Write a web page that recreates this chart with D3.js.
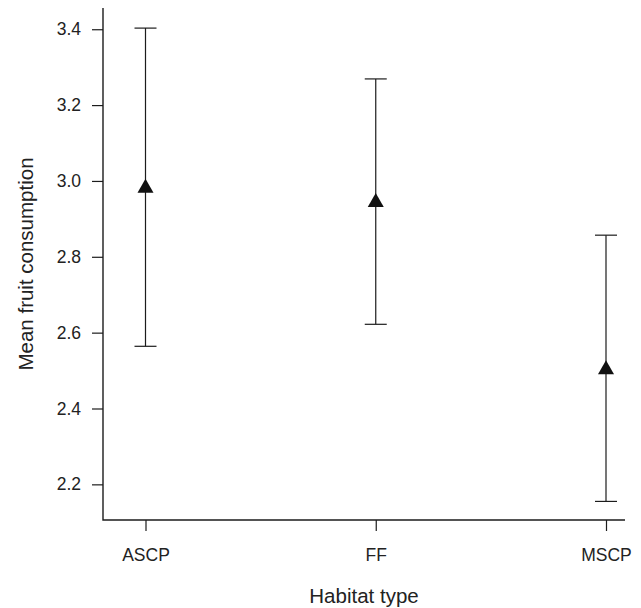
<!DOCTYPE html>
<html>
<head>
<meta charset="utf-8">
<script src="https://cdn.jsdelivr.net/npm/d3@7"></script>
<style>
  html, body { margin: 0; padding: 0; background: #fff; }
  svg { display: block; font-family: "Liberation Sans", Arial, Helvetica, sans-serif; }
</style>
</head>
<body>
<svg id="chart" width="641" height="608"></svg>
<script>
// ---- data ----
const categories = ["ASCP", "FF", "MSCP"];
const means = [2.987, 2.950, 2.509];
const upper = [3.403, 3.269, 2.857];
const lower = [2.564, 2.622, 2.155];
const yTicks = [2.2, 2.4, 2.6, 2.8, 3.0, 3.2, 3.4];
const xTitle = "Habitat type";
const yTitle = "Mean fruit consumption";

// ---- layout ----
const svg = d3.select("#chart");
const axisX0 = 103, axisX1 = 625, axisY0 = 8, axisY1 = 520;
const ink = "#1c1c1c";

const x = d3.scalePoint().domain(categories).range([145.5, 606]);
const y = d3.scaleLinear().domain([2.106, 3.456]).range([axisY1, axisY0]);

// y axis
const gy = svg.append("g").attr("transform", `translate(${axisX0},0)`)
  .call(d3.axisLeft(y).tickValues(yTicks).tickFormat(d3.format(".1f")).tickSize(11).tickPadding(11).tickSizeOuter(0));
gy.select(".domain").remove();
gy.selectAll(".tick line").attr("stroke", ink).attr("stroke-width", 1.2);
gy.selectAll(".tick text").attr("font-size", 17.5).attr("fill", "#222").attr("font-family", null);

// x axis
const gx = svg.append("g").attr("transform", `translate(0,${axisY1})`)
  .call(d3.axisBottom(x).tickSize(11).tickSizeOuter(0));
gx.select(".domain").remove();
gx.selectAll(".tick line").attr("stroke", ink).attr("stroke-width", 1.2);
gx.selectAll(".tick text").attr("font-size", 17.5).attr("fill", "#222").attr("font-family", null)
  .attr("y", 41).attr("dy", 0);

// axis lines (L-shaped box)
svg.append("path")
  .attr("d", `M${axisX0},${axisY0}V${axisY1}H${axisX1}`)
  .attr("fill", "none").attr("stroke", ink).attr("stroke-width", 1.4);

// error bars
const capW = 22;
const g = svg.append("g");
categories.forEach((c, i) => {
  const cx = x(c);
  g.append("line").attr("x1", cx).attr("x2", cx).attr("y1", y(upper[i])).attr("y2", y(lower[i]))
    .attr("stroke", ink).attr("stroke-width", 1.2);
  [upper[i], lower[i]].forEach(v => {
    g.append("line").attr("x1", cx - capW / 2).attr("x2", cx + capW / 2).attr("y1", y(v)).attr("y2", y(v))
      .attr("stroke", ink).attr("stroke-width", 1.2);
  });
  const cy = y(means[i]);
  const tw = 16, th = 14;
  g.append("path")
    .attr("d", `M${cx},${cy - th / 2}L${cx + tw / 2},${cy + th / 2}L${cx - tw / 2},${cy + th / 2}Z`)
    .attr("fill", "#111");
});

// titles
svg.append("text").attr("x", (axisX0 + axisX1) / 2).attr("y", 603)
  .attr("text-anchor", "middle").attr("font-size", 20.5).attr("fill", "#222").text(xTitle);
svg.append("text").attr("transform", `translate(33,${(axisY0 + axisY1) / 2}) rotate(-90)`)
  .attr("text-anchor", "middle").attr("font-size", 20.5).attr("fill", "#222").text(yTitle);
</script>
</body>
</html>
